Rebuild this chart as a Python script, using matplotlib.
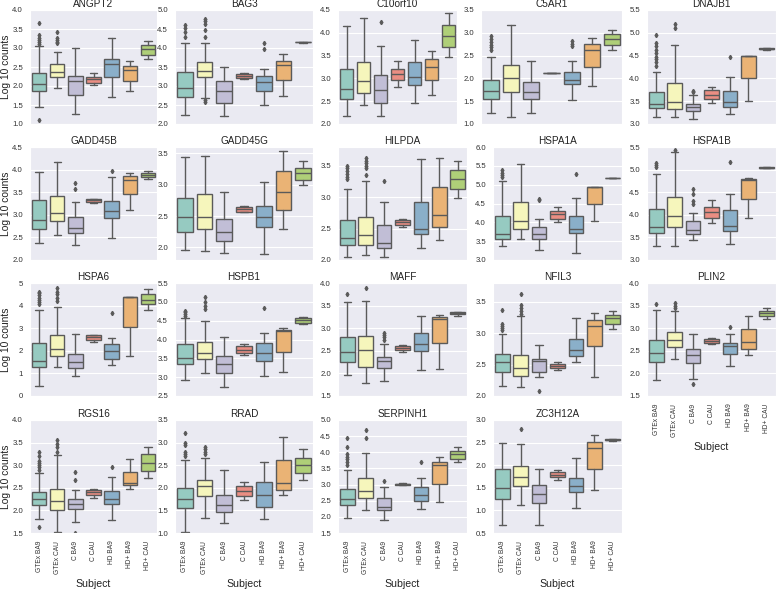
import matplotlib
matplotlib.use("Agg")
import matplotlib.pyplot as plt
import seaborn as sns

subjects = ["GTEx BA9", "GTEx CAU", "C BA9", "C CAU", "HD BA9", "HD+ BA9", "HD+ CAU"]
genes = ["ANGPT2", "BAG3", "C10orf10", "C5AR1", "DNAJB1",
         "GADD45B", "GADD45G", "HILPDA", "HSPA1A", "HSPA1B",
         "HSPA6", "HSPB1", "MAFF", "NFIL3", "PLIN2",
         "RGS16", "RRAD", "SERPINH1", "ZC3H12A"]

# rows: whisker low, q1, median, q3, whisker high (one column per subject)
angpt2 = [[1.46, 1.96, 1.26, 2.02, 1.72, 1.87, 2.70],
          [1.87, 2.23, 1.76, 2.09, 2.23, 2.14, 2.82],
          [2.05, 2.38, 2.13, 2.19, 2.57, 2.42, 2.97],
          [2.35, 2.58, 2.27, 2.25, 2.70, 2.53, 3.07],
          [3.05, 2.90, 2.99, 2.33, 3.27, 2.67, 3.19]]
angpt2_out = [[3.65, 3.34, 3.27, 3.20, 3.15, 3.10, 1.10],
              [3.43, 3.27, 3.22, 3.17, 3.12], [], [], [], [], []]

bag3 = [[2.25, 2.68, 2.21, 3.18, 2.50, 2.75, 4.14],
        [2.72, 3.23, 2.56, 3.20, 2.87, 3.16, 4.15],
        [2.94, 3.39, 2.88, 3.26, 3.11, 3.55, 4.15],
        [3.36, 3.64, 3.13, 3.32, 3.26, 3.66, 4.16],
        [4.12, 4.14, 3.51, 3.35, 3.46, 3.83, 4.16]]
bag3_out = [[4.60, 4.52, 4.41, 4.30],
            [4.77, 4.70, 4.63, 4.47, 4.30, 2.62, 2.58], [], [], [4.12, 3.97], [], []]

c10orf10 = [[2.17, 2.42, 2.17, 2.82, 2.46, 2.64, 3.46],
            [2.54, 2.68, 2.47, 2.96, 2.85, 2.96, 3.69],
            [2.77, 2.94, 2.75, 3.09, 3.03, 3.26, 3.94],
            [3.21, 3.35, 3.08, 3.21, 3.35, 3.43, 4.18],
            [4.15, 4.32, 3.71, 3.38, 3.85, 3.60, 4.43]]
c10orf10_out = [[], [], [4.24], [], [], [], []]

c5ar1 = [[1.24, 1.15, 1.24, 2.12, 1.53, 1.83, 2.63],
         [1.55, 1.71, 1.55, 2.12, 1.87, 2.24, 2.74],
         [1.72, 2.01, 1.70, 2.12, 1.96, 2.63, 2.87],
         [1.97, 2.30, 1.93, 2.12, 2.15, 2.76, 2.97],
         [2.47, 3.17, 2.38, 2.12, 2.38, 2.89, 3.07]]
c5ar1_out = [[2.62, 2.68, 2.74, 2.80, 2.86, 2.92], [], [], [],
             [2.70, 2.76, 2.81], [], []]

dnajb1 = [[3.15, 3.15, 3.11, 3.46, 3.23, 3.51, 4.63],
          [3.35, 3.33, 3.29, 3.54, 3.37, 4.00, 4.64],
          [3.44, 3.49, 3.37, 3.63, 3.49, 4.50, 4.65],
          [3.70, 3.90, 3.44, 3.74, 3.72, 4.50, 4.66],
          [4.15, 4.73, 3.64, 3.81, 4.03, 4.50, 4.67]]
dnajb1_out = [[4.28, 4.35, 4.42, 4.48, 4.55, 4.62, 4.70, 4.77, 4.95],
              [5.10, 5.20], [3.70, 3.73], [], [4.48], [], []]

gadd45b = [[2.38, 2.55, 2.33, 3.27, 2.48, 3.10, 3.80],
           [2.69, 2.86, 2.60, 3.29, 2.94, 3.45, 3.84],
           [2.88, 3.05, 2.70, 3.32, 3.09, 3.78, 3.89],
           [3.32, 3.42, 2.96, 3.35, 3.31, 3.85, 3.93],
           [3.95, 4.17, 3.29, 3.36, 3.84, 3.93, 3.96]]
gadd45b_out = [[], [], [3.57, 3.71], [], [3.97], [], []]

gadd45g = [[1.96, 1.94, 1.91, 2.56, 1.89, 2.29, 2.99],
           [2.25, 2.29, 2.10, 2.57, 2.33, 2.59, 3.08],
           [2.48, 2.49, 2.25, 2.61, 2.48, 2.88, 3.18],
           [2.78, 2.85, 2.46, 2.65, 2.66, 3.21, 3.27],
           [3.44, 3.46, 2.89, 2.66, 3.05, 3.54, 3.37]]
gadd45g_out = [[], [], [], [], [], [], []]

hilpda = [[2.05, 2.08, 2.05, 2.52, 2.19, 2.32, 2.99],
          [2.24, 2.24, 2.19, 2.55, 2.42, 2.52, 3.13],
          [2.35, 2.40, 2.27, 2.60, 2.50, 2.72, 3.29],
          [2.63, 2.68, 2.56, 2.64, 2.92, 3.17, 3.44],
          [3.13, 3.26, 2.93, 2.66, 3.61, 3.62, 3.58]]
hilpda_out = [[3.29, 3.33, 3.37, 3.41, 3.46, 3.50],
              [3.36, 3.46, 3.50, 3.54, 3.58, 3.62], [3.26], [], [], [], []]

hspa1a = [[3.37, 3.55, 3.26, 4.01, 3.18, 4.03, 5.17],
          [3.55, 3.81, 3.55, 4.10, 3.72, 4.48, 5.18],
          [3.69, 4.03, 3.68, 4.23, 3.81, 4.93, 5.18],
          [4.16, 4.53, 3.88, 4.30, 4.17, 4.93, 5.19],
          [5.10, 5.54, 4.10, 4.41, 4.65, 4.93, 5.19]]
hspa1a_out = [[5.20, 5.25, 5.30, 5.40], [], [4.60, 4.63], [], [5.27], [], []]

hspa1b = [[3.32, 3.31, 3.44, 3.81, 3.35, 3.92, 5.03],
          [3.60, 3.72, 3.57, 3.92, 3.65, 4.34, 5.04],
          [3.74, 3.97, 3.66, 4.07, 3.76, 4.76, 5.04],
          [4.13, 4.40, 3.86, 4.18, 4.10, 4.80, 5.05],
          [4.91, 5.39, 4.03, 4.32, 4.47, 4.82, 5.05]]
hspa1b_out = [[5.05, 5.10, 5.15], [5.43], [4.24, 4.31, 4.45, 4.58], [], [5.17], [], []]

hspa6 = [[0.44, 1.30, 0.89, 2.41, 1.35, 1.77, 3.82],
         [1.30, 1.78, 1.23, 2.48, 1.63, 3.05, 4.07],
         [1.57, 2.09, 1.52, 2.60, 1.97, 4.36, 4.26],
         [2.34, 2.68, 1.85, 2.68, 2.31, 4.37, 4.51],
         [3.79, 3.93, 2.75, 2.70, 2.56, 4.37, 4.73]]
hspa6_out = [[4.05, 4.15, 4.25, 4.35, 4.45, 4.55, 4.62],
             [4.20, 4.35, 4.50, 4.62, 4.78], [], [], [3.67], [], []]

hspb1 = [[2.92, 3.12, 2.73, 3.58, 3.04, 3.14, 4.41],
         [3.35, 3.47, 3.12, 3.65, 3.43, 3.67, 4.45],
         [3.51, 3.63, 3.36, 3.73, 3.63, 4.22, 4.51],
         [3.87, 3.94, 3.57, 3.83, 3.91, 4.26, 4.57],
         [4.57, 4.49, 4.07, 3.87, 4.16, 4.31, 4.60]]
hspb1_out = [[4.63, 4.67, 4.72, 4.75], [4.80, 4.90, 5.00, 5.13], [], [], [4.84], [], []]

maff = [[1.96, 1.78, 1.83, 2.47, 2.07, 2.10, 3.28],
        [2.25, 2.14, 2.12, 2.51, 2.50, 2.67, 3.31],
        [2.47, 2.52, 2.28, 2.56, 2.65, 3.20, 3.33],
        [2.80, 2.82, 2.36, 2.61, 2.89, 3.25, 3.35],
        [3.57, 3.60, 2.65, 2.63, 3.27, 3.30, 3.36]]
maff_out = [[3.75], [3.90], [2.75, 2.80, 2.85, 2.90], [], [], [], []]

nfil3 = [[2.16, 2.15, 2.31, 2.42, 2.54, 2.30, 3.06],
         [2.38, 2.32, 2.39, 2.45, 2.64, 2.79, 3.14],
         [2.54, 2.45, 2.55, 2.47, 2.73, 3.12, 3.24],
         [2.67, 2.66, 2.59, 2.51, 2.91, 3.21, 3.29],
         [2.98, 3.27, 2.81, 2.54, 3.24, 3.33, 3.35]]
nfil3_out = [[3.05, 3.08, 3.12, 3.15, 3.37],
             [3.30, 3.35, 3.40, 3.45, 3.63], [2.08], [], [], [], []]

plin2 = [[1.85, 2.32, 1.88, 2.65, 2.16, 2.40, 3.21],
         [2.26, 2.58, 2.24, 2.68, 2.44, 2.54, 3.28],
         [2.46, 2.73, 2.40, 2.71, 2.60, 2.69, 3.34],
         [2.73, 2.92, 2.54, 2.76, 2.68, 2.99, 3.39],
         [3.40, 3.38, 2.88, 2.79, 2.87, 3.28, 3.45]]
plin2_out = [[3.53], [3.45, 3.50, 3.55], [1.77], [], [3.02], [], []]

rgs16 = [[1.80, 1.52, 1.74, 2.28, 1.78, 2.48, 2.71],
         [2.13, 2.00, 2.02, 2.34, 2.15, 2.56, 2.88],
         [2.26, 2.20, 2.15, 2.41, 2.26, 2.61, 3.05],
         [2.41, 2.48, 2.26, 2.46, 2.43, 2.85, 3.24],
         [2.82, 3.22, 2.46, 2.48, 2.73, 3.13, 3.41]]
rgs16_out = [[2.90, 2.95, 3.00, 3.05, 3.10, 3.20, 3.30, 1.63],
             [3.30, 3.40, 3.48, 3.55], [2.68, 2.85, 1.50], [], [2.95], [], []]

rrad = [[1.02, 1.33, 1.22, 1.72, 1.30, 1.83, 2.17],
        [1.56, 1.82, 1.47, 1.81, 1.58, 1.96, 2.33],
        [1.76, 2.04, 1.63, 1.93, 1.84, 2.11, 2.50],
        [2.00, 2.18, 1.84, 2.04, 2.12, 2.61, 2.67],
        [2.61, 2.67, 2.39, 2.13, 2.58, 3.12, 2.85]]
rrad_out = [[2.70, 2.75, 2.80, 2.95, 3.00, 3.22],
            [2.75, 2.80, 2.85, 2.90], [], [], [], [], []]

serpinh1 = [[1.95, 2.20, 1.90, 3.00, 2.23, 2.46, 3.69],
            [2.38, 2.57, 2.20, 3.00, 2.50, 3.01, 3.79],
            [2.54, 2.80, 2.31, 3.02, 2.67, 3.60, 3.96],
            [2.86, 3.19, 2.57, 3.03, 2.91, 3.71, 4.04],
            [3.45, 3.99, 2.93, 3.04, 3.21, 3.86, 4.15]]
serpinh1_out = [[3.60, 3.70, 3.78, 3.85, 3.95, 4.15, 4.45],
                [4.45, 4.70], [3.10], [], [3.70], [], []]

zc3h12a = [[0.68, 1.13, 0.68, 1.67, 1.06, 1.45, 2.54],
           [1.25, 1.54, 1.17, 1.73, 1.41, 1.91, 2.55],
           [1.50, 1.73, 1.37, 1.79, 1.54, 2.39, 2.56],
           [1.91, 1.98, 1.56, 1.84, 1.72, 2.52, 2.57],
           [2.50, 2.46, 1.91, 1.89, 2.17, 2.67, 2.58]]
zc3h12a_out = [[], [2.80], [], [], [], [], []]

data = {"ANGPT2": (angpt2, angpt2_out), "BAG3": (bag3, bag3_out),
        "C10orf10": (c10orf10, c10orf10_out), "C5AR1": (c5ar1, c5ar1_out),
        "DNAJB1": (dnajb1, dnajb1_out), "GADD45B": (gadd45b, gadd45b_out),
        "GADD45G": (gadd45g, gadd45g_out), "HILPDA": (hilpda, hilpda_out),
        "HSPA1A": (hspa1a, hspa1a_out), "HSPA1B": (hspa1b, hspa1b_out),
        "HSPA6": (hspa6, hspa6_out), "HSPB1": (hspb1, hspb1_out),
        "MAFF": (maff, maff_out), "NFIL3": (nfil3, nfil3_out),
        "PLIN2": (plin2, plin2_out), "RGS16": (rgs16, rgs16_out),
        "RRAD": (rrad, rrad_out), "SERPINH1": (serpinh1, serpinh1_out),
        "ZC3H12A": (zc3h12a, zc3h12a_out)}

# y range and tick step for each panel
ylims = {"ANGPT2": (1.0, 4.0, 0.5), "BAG3": (2.0, 5.0, 0.5), "C10orf10": (2.0, 4.5, 0.5),
         "C5AR1": (1.0, 3.5, 0.5), "DNAJB1": (3.0, 5.5, 0.5), "GADD45B": (2.0, 4.5, 0.5),
         "GADD45G": (1.8, 3.6, 0.5), "HILPDA": (2.0, 3.8, 0.5), "HSPA1A": (3.0, 6.0, 0.5),
         "HSPA1B": (3.0, 5.5, 0.5), "HSPA6": (0.0, 5.0, 1.0), "HSPB1": (2.5, 5.5, 0.5),
         "MAFF": (1.5, 4.0, 0.5), "NFIL3": (2.0, 3.8, 0.5), "PLIN2": (1.5, 4.0, 0.5),
         "RGS16": (1.5, 4.0, 0.5), "RRAD": (1.0, 3.5, 0.5), "SERPINH1": (1.5, 5.0, 0.5),
         "ZC3H12A": (0.5, 3.0, 0.5)}

sns.set_style("darkgrid")
plt.rcParams["font.family"] = ["Liberation Sans", "DejaVu Sans"]

W, H = 777, 591
col_px = [(30, 157), (175, 313), (338, 467), (493, 622), (647, 776)]
row_px = [(10, 124), (147, 260), (283, 396), (420, 533)]

palette = sns.color_palette("Set3", 7, desat=0.75)
line_c = "#5a5a5a"

fig = plt.figure(figsize=(7.77, 5.91), dpi=100)

for i, gene in enumerate(genes):
    r, c = divmod(i, 5)
    x0, x1 = col_px[c]
    if r == 0 and c == 2:
        x1 = 457
    if r == 0 and c == 3:
        x0 = 481
    y0, y1 = row_px[r]
    ax = fig.add_axes([x0 / W, 1 - y1 / H, (x1 - x0) / W, (y1 - y0) / H])

    st, out = data[gene]
    stats = []
    for j in range(len(subjects)):
        stats.append(dict(whislo=st[0][j], q1=st[1][j], med=st[2][j],
                          q3=st[3][j], whishi=st[4][j], fliers=out[j]))
    bp = ax.bxp(stats, positions=range(len(subjects)), widths=0.8,
                patch_artist=True,
                boxprops=dict(edgecolor=line_c, linewidth=1.0),
                medianprops=dict(color=line_c, linewidth=1.0),
                whiskerprops=dict(color=line_c, linewidth=1.0),
                capprops=dict(color=line_c, linewidth=1.0),
                flierprops=dict(marker="d", markersize=2.2, markerfacecolor=line_c,
                                markeredgecolor=line_c, linestyle="none"))
    for patch, col in zip(bp["boxes"], palette):
        patch.set_facecolor(col)

    lo, hi, step = ylims[gene]
    ax.set_ylim(lo, hi)
    t0 = round(lo / step + 0.4999) * step
    ticks = []
    t = t0
    while t <= hi + 1e-9:
        ticks.append(round(t, 2))
        t += step
    ax.set_yticks(ticks)
    if step >= 1:
        ax.set_yticklabels([f"{v:.0f}" for v in ticks])
    else:
        ax.set_yticklabels([f"{v:.1f}" for v in ticks])
    ax.set_xlim(-0.5, len(subjects) - 0.5)
    ax.xaxis.grid(False)
    ax.tick_params(axis="y", labelsize=5.6, pad=1.5, colors="#333333")
    ax.set_title(gene, fontsize=7.2, pad=2, color="#222222")

    bottom = (r == 3) or (r == 2 and c == 4)
    ax.set_xticks(range(len(subjects)))
    if bottom:
        ax.set_xticklabels(subjects, rotation=90, fontsize=4.8, color="#333333")
        ax.tick_params(axis="x", pad=2)
        ax.set_xlabel("Subject", fontsize=7.6, color="#222222")
    else:
        ax.set_xticklabels([])
    if c == 0:
        ax.set_ylabel("Log 10 counts", fontsize=7.4, color="#222222")
        ax.yaxis.set_label_coords(-0.148, 0.5)

fig.savefig("out.png", dpi=100)
